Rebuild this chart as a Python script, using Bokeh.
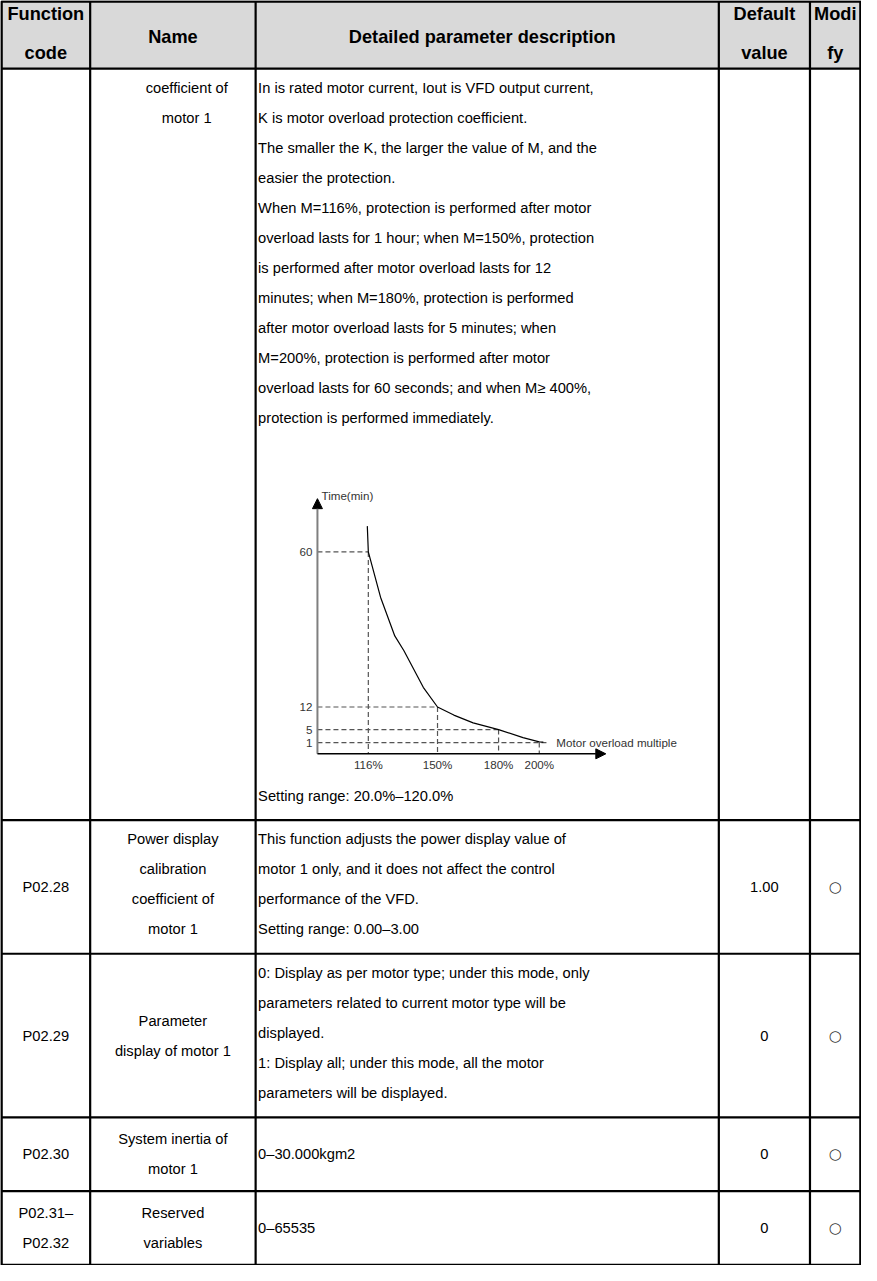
from bokeh.plotting import figure
from bokeh.models import Range1d, Arrow, NormalHead
from bokeh.core.properties import value
from bokeh.embed import file_html
from bokeh.resources import INLINE

# ---------------- data ----------------
# chart: motor overload multiple (%) vs protection time (min)
overload_multiple = [116, 150, 180, 200]
protection_time = [60, 12, 5, 1]
x_tick_labels = ["116%", "150%", "180%", "200%"]
y_tick_labels = ["60", "12", "5", "1"]
curve_multiple = [115.5, 116, 122, 129, 133.5, 143, 150, 158, 167.5, 180, 192, 200, 202]
curve_time = [68, 60, 46, 34, 29.4, 18.1, 12, 9.5, 7.1, 5, 2.5, 1.2, 1.1]
chart_x_title = "Motor overload multiple"
chart_y_title = "Time(min)"

# table
header_code = ["Function", "code"]
header_name = ["Name"]
header_desc = ["Detailed parameter description"]
header_default = ["Default", "value"]
header_modify = ["Modi", "fy"]

codes = [[], ["P02.28"], ["P02.29"], ["P02.30"], ["P02.31–", "P02.32"]]
names = [["coefficient of", "motor 1"],
         ["Power display", "calibration", "coefficient of", "motor 1"],
         ["Parameter", "display of motor 1"],
         ["System inertia of", "motor 1"],
         ["Reserved", "variables"]]
desc_row1_top = ["In is rated motor current, Iout is VFD output current,",
                 "K is motor overload protection coefficient.",
                 "The smaller the K, the larger the value of M, and the",
                 "easier the protection.",
                 "When M=116%, protection is performed after motor",
                 "overload lasts for 1 hour; when M=150%, protection",
                 "is performed after motor overload lasts for 12",
                 "minutes; when M=180%, protection is performed",
                 "after motor overload lasts for 5 minutes; when",
                 "M=200%, protection is performed after motor",
                 "overload lasts for 60 seconds; and when M≥ 400%,",
                 "protection is performed immediately."]
desc_row1_bottom = ["Setting range: 20.0%–120.0%"]
descs = [None,
         ["This function adjusts the power display value of",
          "motor 1 only, and it does not affect the control",
          "performance of the VFD.",
          "Setting range: 0.00–3.00"],
         ["0: Display as per motor type; under this mode, only",
          "parameters related to current motor type will be",
          "displayed.",
          "1: Display all; under this mode, all the motor",
          "parameters will be displayed."],
         ["0–30.000kgm2"],
         ["0–65535"]]
defaults = ["", "1.00", "0", "0", "0"]
modify = ["", "○", "○", "○", "○"]

# ---------------- layout ----------------
COL_X = [5, 94.5, 261.5, 729, 821, 872]
ROW_Y = [2, 70, 830, 965.2, 1130.7, 1205.3, 1280]
LS = 30.3
FIRST = 19.5

BODY_FONT = value("Liberation Sans")
BODY_SIZE = "14.7px"
HEAD_SIZE = "18.2px"
CHART_FONT = value("Liberation Sans")
CHART_SIZE = "11.6px"

# chart scale: page_px = A + B * value
CX_A, CX_B = 136.98, 2.054
CY_A, CY_B = 754.8, -3.267
AXIS_M0, AXIS_T0 = 91.0, -2.5
AXIS_M_END, AXIS_T_END = 232.7, 76.5

XR = (4, 873)
YR = (1280.5, 1.0)

p = figure(width=861, height=1265, x_range=Range1d(*XR), y_range=Range1d(*YR),
           x_axis_type=None, y_axis_type=None, output_backend="svg",
           toolbar_location=None, min_border=0, outline_line_color=None,
           background_fill_color="white", border_fill_color="white")
p.extra_x_ranges = {"cx": Range1d((XR[0] - CX_A) / CX_B, (XR[1] - CX_A) / CX_B)}
p.extra_y_ranges = {"cy": Range1d((YR[0] - CY_A) / CY_B, (YR[1] - CY_A) / CY_B)}


def txt(xs, ys, texts, align="left", size=BODY_SIZE, font=BODY_FONT, style="normal",
        color="#000000", **kw):
    if not texts:
        return
    p.text(x=xs, y=ys, text=texts, text_align=align, text_baseline="middle",
           text_font=font, text_font_size=size, text_font_style=style,
           text_color=color, **kw)


# header background
p.quad(left=[COL_X[0]], right=[COL_X[-1]], top=[ROW_Y[0]], bottom=[ROW_Y[1]],
       fill_color="#d9d9d9", line_color=None)

# header texts
hy2 = [15, 54]
cx = [(COL_X[i] + COL_X[i + 1]) / 2 for i in range(5)]
HK = dict(style="bold", size=HEAD_SIZE)
txt([cx[0]] * 2, hy2, header_code, "center", **HK)
txt([cx[1]], [38], header_name, "center", **HK)
txt([cx[2] - 5], [38], header_desc, "center", **HK)
txt([cx[3]] * 2, hy2, header_default, "center", **HK)
txt([cx[4]] * 2, hy2, header_modify, "center", **HK)

# body rows
desc_x = COL_X[2] + 2.5
for r in range(5):
    top, bot = ROW_Y[r + 1], ROW_Y[r + 2]
    mid = (top + bot) / 2
    n = len(codes[r])
    txt([cx[0]] * n, [mid + (i - (n - 1) / 2) * LS for i in range(n)], codes[r], "center")
    if defaults[r]:
        txt([cx[3]], [mid], [defaults[r]], "center")
        txt([cx[4]], [mid], [modify[r]], "center", size="15px", font=value("DejaVu Sans"),
            color="#333333")
    if r == 0:
        ys = [top + FIRST + i * LS for i in range(len(desc_row1_top))]
        txt([desc_x] * len(ys), ys, desc_row1_top)
        txt([desc_x], [bot - (LS - 5.5)], desc_row1_bottom)
        txt([192] * 2, [top + FIRST + i * LS for i in range(2)], names[0], "center")
        continue
    d = descs[r]
    if len(d) > 1:
        ys = [top + FIRST + i * LS for i in range(len(d))]
    else:
        ys = [mid]
    txt([desc_x] * len(d), ys, d)
    nm = names[r]
    if len(nm) == len(d):
        nys = ys
    else:
        nys = [mid + (i - (len(nm) - 1) / 2) * LS for i in range(len(nm))]
    txt([cx[1]] * len(nm), nys, nm, "center")

# table lines
p.segment(x0=COL_X[1:-1], x1=COL_X[1:-1], y0=[ROW_Y[0]] * 4, y1=[ROW_Y[-1]] * 4,
          line_color="black", line_width=2.2)
p.segment(x0=[COL_X[0]] * (len(ROW_Y) - 2), x1=[COL_X[-1]] * (len(ROW_Y) - 2),
          y0=ROW_Y[1:-1], y1=ROW_Y[1:-1], line_color="black", line_width=2.2)
p.quad(left=[COL_X[0]], right=[COL_X[-1]], top=[ROW_Y[0]], bottom=[ROW_Y[-1]],
       fill_color=None, line_color="black", line_width=2.6)

# ---------------- chart ----------------
CK = dict(x_range_name="cx", y_range_name="cy")
guide_end = list(overload_multiple)
guide_end[-1] = overload_multiple[-1] + 5
p.multi_line(xs=[[AXIS_M0, e] for e in guide_end],
             ys=[[t, t] for t in protection_time],
             line_color="#555555", line_width=1.2, line_dash="5 3", **CK)
p.multi_line(xs=[[m, m] for m in overload_multiple],
             ys=[[t, AXIS_T0] for t in protection_time],
             line_color="#555555", line_width=1.2, line_dash="5 3", **CK)
p.line(curve_multiple, curve_time, line_color="black", line_width=1.2, **CK)

p.add_layout(Arrow(end=NormalHead(size=10, fill_color="black", line_color="black"),
                   x_start=AXIS_M0, y_start=AXIS_T0, x_end=AXIS_M0, y_end=AXIS_T_END,
                   line_color="#7f7f7f", line_width=2, **CK))
p.add_layout(Arrow(end=NormalHead(size=10, fill_color="black", line_color="black"),
                   x_start=AXIS_M0, y_start=AXIS_T0, x_end=AXIS_M_END, y_end=AXIS_T0,
                   line_color="black", line_width=1.5, **CK))

txt([AXIS_M0 - 2.5] * 4, protection_time, y_tick_labels, "right",
    size=CHART_SIZE, font=CHART_FONT, color="#333333", **CK)
txt(overload_multiple, [AXIS_T0 - 3.4] * 4, x_tick_labels, "center",
    size=CHART_SIZE, font=CHART_FONT, color="#333333", **CK)
txt([AXIS_M0 + 2], [AXIS_T_END + 1], [chart_y_title], "left",
    size=CHART_SIZE, font=CHART_FONT, color="#333333", **CK)
txt([208.4], [0.9], [chart_x_title], "left",
    size=CHART_SIZE, font=CHART_FONT, color="#333333", **CK)

open("out.html", "w").write(file_html(p, INLINE))
